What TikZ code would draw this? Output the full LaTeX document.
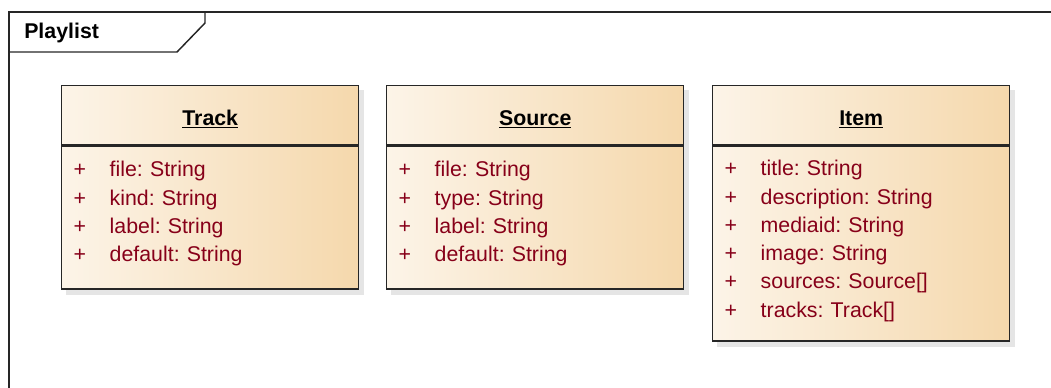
\documentclass[tikz,border=0pt]{standalone}
\usepackage{fontspec}
\setmainfont{Liberation Sans}
\usetikzlibrary{positioning,calc,backgrounds}
\definecolor{boxleft}{RGB}{252,244,232}
\definecolor{boxright}{RGB}{245,216,172}
\definecolor{attrred}{RGB}{135,0,25}
\tikzstyle{frame} = [draw=black!85, line width=1.1pt]
\tikzstyle{classhead} = [rectangle, draw=black!85, line width=1.1pt,
    left color=boxleft, right color=boxright, minimum width=222.75pt,
    minimum height=44.25pt, inner sep=0pt, text height=18pt, text depth=3pt,
    font=\fontsize{16}{19}\selectfont\bfseries]
\tikzstyle{classbody} = [rectangle, draw=black!85, line width=1.1pt,
    left color=boxleft, right color=boxright, text width=204.75pt,
    inner xsep=9pt, align=left, text=attrred, font=\fontsize{16}{21.2}\selectfont]
\tikzstyle{shade box} = [fill=black!10]
\newcommand{\attr}[1]{\makebox[27pt][l]{+}#1}
\frenchspacing
\begin{document}
\begin{tikzpicture}[x=0.75pt,y=-0.75pt]
    \useasboundingbox (0,0) rectangle (1051,387);
    % Frame and tab
    \draw[frame] (9,389) -- (9,12) -- (1053,12);
    \draw[frame] (9,52) -- (177,52) -- (205,23) -- (205,12);
    \node[anchor=base west, inner sep=0pt, font=\fontsize{16}{19}\selectfont\bfseries] (title) at (24,38) {Playlist};
    % Place nodes
    \node[classhead, anchor=north west] (track) at (61,85) {\underline{Track}};
    \node[classbody, below=0pt of track, minimum height=107.25pt] (trackattr)
        {\attr{file: String}\\ \attr{kind: String}\\ \attr{label: String}\\ \attr{default: String}\par\vspace{6pt}};
    \node[classhead, anchor=north west] (source) at (386,85) {\underline{Source}};
    \node[classbody, below=0pt of source, minimum height=107.25pt] (sourceattr)
        {\attr{file: String}\\ \attr{type: String}\\ \attr{label: String}\\ \attr{default: String}\par\vspace{6pt}};
    \node[classhead, anchor=north west] (item) at (712,85) {\underline{Item}};
    \node[classbody, below=0pt of item, minimum height=146.25pt] (itemattr)
        {\attr{title: String}\\ \attr{description: String}\\ \attr{mediaid: String}\\
         \attr{image: String}\\ \attr{sources: Source[]}\\ \attr{tracks: Track[]}\par\vspace{4pt}};
    % Shadows
    \begin{scope}[on background layer]
        \fill[shade box] ($(track.north west)+(5,5)$) rectangle ($(trackattr.south east)+(5,5)$);
        \fill[shade box] ($(source.north west)+(5,5)$) rectangle ($(sourceattr.south east)+(5,5)$);
        \fill[shade box] ($(item.north west)+(5,5)$) rectangle ($(itemattr.south east)+(5,5)$);
    \end{scope}
\end{tikzpicture}
\end{document}
